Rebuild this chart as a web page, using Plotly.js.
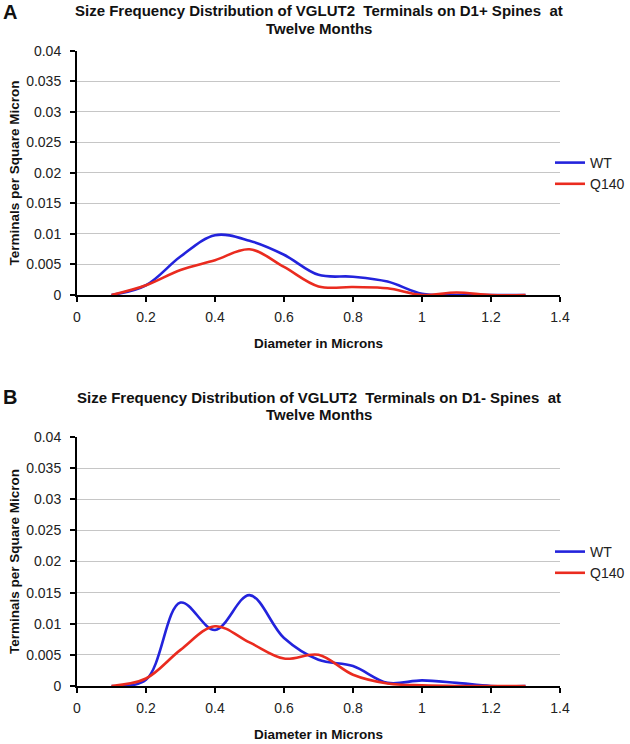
<!DOCTYPE html>
<html>
<head>
<meta charset="utf-8">
<script src="https://cdn.plot.ly/plotly-3.0.1.min.js"></script>
<style>html,body{margin:0;padding:0;background:#fff;}#chart{width:630px;height:744px;}</style>
</head>
<body>
<div id="chart"></div>
<script>
// Data
const diameters = [0.1, 0.2, 0.3, 0.4, 0.5, 0.6, 0.7, 0.8, 0.9, 1.0, 1.1, 1.2, 1.3];
const wtA   = [0, 0.0016, 0.0063, 0.0098, 0.0089, 0.0066, 0.0033, 0.0030, 0.0022, 0.0002, 0, 0, 0];
const q140A = [0, 0.0016, 0.0041, 0.0057, 0.0075, 0.0046, 0.0014, 0.0013, 0.0011, 0, 0.0004, 0, 0];
const wtB   = [0, 0.0010, 0.0134, 0.0090, 0.0146, 0.0077, 0.0042, 0.0032, 0.0005, 0.0009, 0.0005, 0, 0];
const q140B = [0, 0.0012, 0.0058, 0.0096, 0.0070, 0.0044, 0.0050, 0.0018, 0.0004, 0.0001, 0, 0, 0];
const seriesNames = ['WT', 'Q140'];
const titleA = ['Size Frequency Distribution of VGLUT2  Terminals on D1+ Spines  at', 'Twelve Months'];
const titleB = ['Size Frequency Distribution of VGLUT2  Terminals on D1- Spines  at', 'Twelve Months'];
const xTitle = 'Diameter in Microns';
const yTitle = 'Terminals per Square Micron';

const BLUE = '#2323dc';
const RED = '#ea2b1f';
const FONT = 'Liberation Sans, Arial, sans-serif';

function line(x, y, name, color, xa, ya, leg) {
  return {x: x, y: y, name: name, type: 'scatter', mode: 'lines',
    line: {color: color, width: 2.6, shape: 'spline', smoothing: 1},
    xaxis: xa, yaxis: ya, legend: leg, hoverinfo: 'skip'};
}

const traces = [
  line(diameters, wtA, seriesNames[0], BLUE, 'x', 'y', 'legend'),
  line(diameters, q140A, seriesNames[1], RED, 'x', 'y', 'legend'),
  line(diameters, wtB, seriesNames[0], BLUE, 'x2', 'y2', 'legend2'),
  line(diameters, q140B, seriesNames[1], RED, 'x2', 'y2', 'legend2')
];

function xaxis(anchor) {
  return {anchor: anchor, range: [0, 1.4], dtick: 0.2, tick0: 0,
    showgrid: false, zeroline: false, showline: true, linecolor: '#000', linewidth: 2,
    ticks: 'outside', ticklen: 5, tickwidth: 2, tickcolor: '#000',
    ticklabelstandoff: 3,
    tickfont: {family: FONT, size: 14, color: '#222'},
    title: {text: xTitle, font: {family: FONT, size: 13.5, color: '#111', weight: 'bold'}, standoff: 15}};
}
function yaxis(domain, anchor) {
  return {domain: domain, anchor: anchor, range: [0, 0.04], dtick: 0.005, tick0: 0,
    showgrid: true, gridcolor: '#c6c6c6', gridwidth: 1, zeroline: false,
    showline: true, linecolor: '#000', linewidth: 2,
    ticks: 'outside', ticklen: 5, tickwidth: 2, tickcolor: '#000',
    ticklabelstandoff: 6,
    tickfont: {family: FONT, size: 14, color: '#222'},
    title: {text: yTitle, font: {family: FONT, size: 13.5, color: '#111', weight: 'bold'}, standoff: 3}};
}

const legendStyle = {font: {family: FONT, size: 14, color: '#222'}, bgcolor: 'rgba(0,0,0,0)',
  borderwidth: 0, itemwidth: 30, tracegroupgap: 0, xanchor: 'left', yanchor: 'top',
  xref: 'container', yref: 'container'};

function titleAnn(text, yPx) {
  return {text: '<b>' + text + '</b>', xref: 'paper', yref: 'paper', x: 0.5, y: 1 - yPx/744,
    xanchor: 'center', yanchor: 'middle', showarrow: false, font: {family: FONT, size: 15, color: '#111'}};
}

const layout = {
  width: 630, height: 744,
  margin: {l: 77, r: 70, t: 0, b: 0, autoexpand: false},
  paper_bgcolor: '#fff', plot_bgcolor: '#fff',
  font: {family: FONT},
  showlegend: true,
  xaxis: xaxis('y'),
  yaxis: yaxis([0.6035, 0.9315], 'x'),
  xaxis2: xaxis('y2'),
  yaxis2: yaxis([0.078, 0.4126], 'x2'),
  legend: Object.assign({x: 550/630, y: 1 - 147/744}, legendStyle),
  legend2: Object.assign({x: 550/630, y: 1 - 536/744}, legendStyle),
  annotations: [
    {text: '<b>A</b>', xref: 'paper', yref: 'paper', x: -0.157, y: 1 - 12/744, xanchor: 'left', yanchor: 'middle', showarrow: false, font: {family: FONT, size: 20, color: '#111'}},
    {text: '<b>B</b>', xref: 'paper', yref: 'paper', x: -0.157, y: 1 - 397/744, xanchor: 'left', yanchor: 'middle', showarrow: false, font: {family: FONT, size: 20, color: '#111'}},
    titleAnn(titleA[0], 11), titleAnn(titleA[1], 29),
    titleAnn(titleB[0], 397), titleAnn(titleB[1], 415)
  ]
};

Plotly.newPlot('chart', traces, layout, {staticPlot: true, displayModeBar: false});
</script>
</body>
</html>
